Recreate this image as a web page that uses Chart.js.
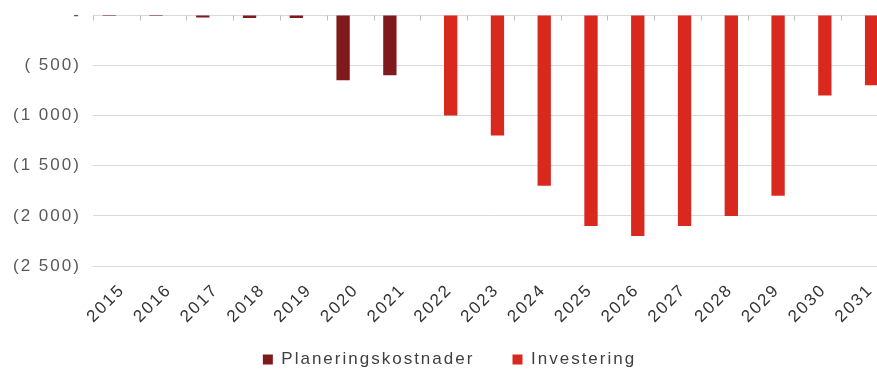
<!DOCTYPE html>
<html>
<head>
<meta charset="utf-8">
<script src="https://cdn.jsdelivr.net/npm/chart.js@4"></script>
<style>
  html, body { margin: 0; padding: 0; background: #fff; overflow: hidden; }
  #wrap { width: 892px; height: 378px; }
</style>
</head>
<body>
<div id="wrap"><canvas id="chart"></canvas></div>
<script>
// Years on the x axis
let years = ["2015", "2016", "2017", "2018", "2019", "2020", "2021", "2022", "2023",
             "2024", "2025", "2026", "2027", "2028", "2029", "2030", "2031"];

// Values per series
let planering = [-10, -10, -25, -30, -30, -650, -600, null, null,
                 null, null, null, null, null, null, null, null];
let investering = [null, null, null, null, null, null, null, -1000, -1200,
                   -1700, -2100, -2200, -2100, -2000, -1800, -800, -700];

// Y tick values
let yTicks = [0, -500, -1000, -1500, -2000, -2500];

let colors = ["#7e1a1c", "#d9291e"];
let FONT = "Liberation Sans";

// Format like "(1 000)", "( 500)" and "-" for zero
function fmt(v){
  if(v === 0) return "-";
  let s = Math.abs(v).toString().replace(/\B(?=(\d{3})+(?!\d))/g, " ");
  if(Math.abs(v) < 1000) s = " " + s;
  return v < 0 ? "(" + s + ")" : s;
}

// The original text is set quite wide, so add some letter spacing
let wideText = {
  id: "wideText",
  beforeUpdate(chart){ chart.ctx.letterSpacing = "2px"; },
  beforeDraw(chart){ chart.ctx.letterSpacing = "2px"; }
};

// Small tick marks on the zero line between categories
let zeroTicks = {
  id: "zeroTicks",
  afterDraw(chart){
    let x = chart.scales.x, y = chart.scales.y, ctx = chart.ctx;
    let y0 = Math.round(y.getPixelForValue(0)) + 0.5;
    let half = (x.getPixelForValue(1) - x.getPixelForValue(0)) / 2;
    ctx.save();
    ctx.strokeStyle = "#bfbfbf";
    ctx.lineWidth = 1;
    for(let i = 0; i <= years.length; i++){
      let px = Math.round(x.getPixelForValue(i) - half) + 0.5;
      ctx.beginPath();
      ctx.moveTo(px, y0);
      ctx.lineTo(px, y0 + 5);
      ctx.stroke();
    }
    ctx.restore();
  }
};

new Chart(document.getElementById("chart").getContext("2d"), {
  type: "bar",
  data: {
    labels: years,
    datasets: [
      { label: "Planeringskostnader", data: planering, backgroundColor: colors[0] },
      { label: "Investering", data: investering, backgroundColor: colors[1] }
    ]
  },
  options: {
    responsive: true,
    maintainAspectRatio: false,
    animation: false,
    categoryPercentage: 0.6,
    barPercentage: 0.95,
    layout: { padding: { top: 15, right: 4, left: 11, bottom: 0 } },
    plugins: {
      legend: {
        position: "bottom",
        labels: {
          boxWidth: 10, boxHeight: 10, padding: 18,
          color: "#404040",
          font: { family: FONT, size: 17 },
          // wider gap after the first entry, like the original
          generateLabels(chart){
            let items = Chart.defaults.plugins.legend.labels.generateLabels(chart);
            items[0].text += "   ";
            return items;
          }
        }
      },
      tooltip: { enabled: false }
    },
    scales: {
      x: {
        grid: { display: false },
        border: { display: false },
        ticks: {
          minRotation: 45, maxRotation: 45, padding: 6, labelOffset: 6,
          color: "#333333",
          font: { family: FONT, size: 17 }
        }
      },
      y: {
        min: -2500,
        max: 0,
        afterBuildTicks(axis){ axis.ticks = yTicks.map(v => ({ value: v })); },
        grid: { color: "#d9d9d9", drawTicks: true, tickLength: 10, tickColor: "rgba(0,0,0,0)" },
        border: { display: false },
        ticks: {
          padding: 2,
          color: "#595959",
          font: { family: FONT, size: 17 },
          callback: v => fmt(v)
        }
      }
    }
  },
  plugins: [wideText, zeroTicks]
});
</script>
</body>
</html>
